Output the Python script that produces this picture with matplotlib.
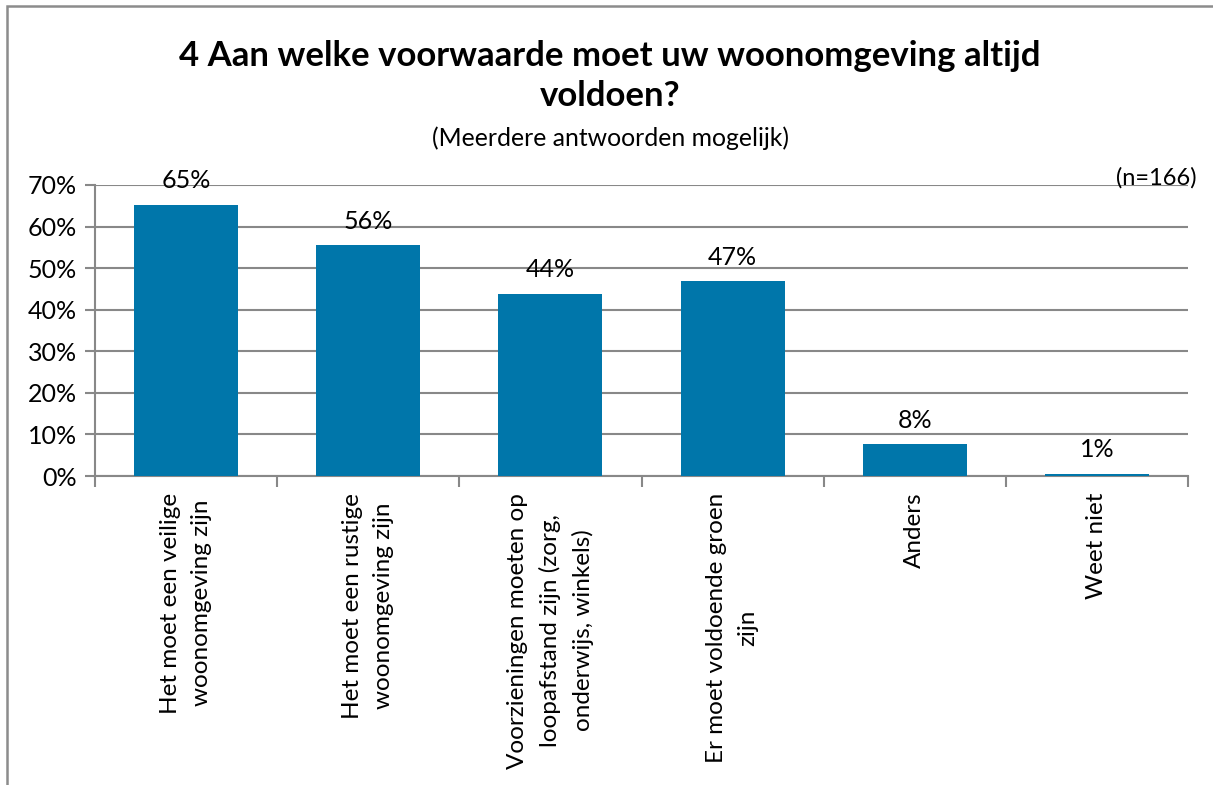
import matplotlib.pyplot as plt
from matplotlib.patches import Rectangle
from matplotlib.ticker import FixedLocator

plt.rcParams.update({
    "font.family": ["Lato", "DejaVu Sans"],
    "font.size": 18,
})

categories = [
    "Het moet een veilige\nwoonomgeving zijn",
    "Het moet een rustige\nwoonomgeving zijn",
    "Voorzieningen moeten op\nloopafstand zijn (zorg,\nonderwijs, winkels)",
    "Er moet voldoende groen\nzijn",
    "Anders",
    "Weet niet",
]
values = [65.3, 55.5, 43.8, 46.9, 7.6, 0.6]
bar_labels = ["65%", "56%", "44%", "47%", "8%", "1%"]
y_ticks = [0, 10, 20, 30, 40, 50, 60, 70]

BAR_COLOR = "#0076AA"
GRID_COLOR = "#888888"

W, H = 1213, 785
fig = plt.figure(figsize=(W / 100, H / 100), dpi=100)
fig.patch.set_facecolor("white")

# outer chart border (cut off at right and bottom in the reference)
fig.patches.append(Rectangle((7 / W, -0.05), 1.2, 1.05 - 6 / H,
                             transform=fig.transFigure, fill=False,
                             edgecolor="#8c8c8c", linewidth=1.8))

ax = fig.add_axes([95 / W, 1 - 476 / H, (1188 - 95) / W, (476 - 185) / H])
x = list(range(len(categories)))
bars = ax.bar(x, values, width=0.57, color=BAR_COLOR, zorder=3)

for rect, lab in zip(bars, bar_labels):
    ax.annotate(lab, (rect.get_x() + rect.get_width() / 2, rect.get_height()),
                xytext=(0, 9), textcoords="offset points",
                ha="center", va="bottom", fontsize=18, color="black")

ax.set_xlim(-0.5, len(categories) - 0.5)
ax.set_ylim(0, 70)
ax.set_yticks(y_ticks)
ax.set_yticklabels([f"{t}%" for t in y_ticks])
ax.yaxis.grid(True, color=GRID_COLOR, linewidth=1.5, zorder=0)
ax.set_axisbelow(True)

ax.set_xticks(x)
ax.set_xticklabels(categories, rotation=90, ha="center", va="top", fontsize=17.5,
                   linespacing=1.6)
ax.xaxis.set_minor_locator(FixedLocator([i - 0.5 for i in range(len(categories) + 1)]))
ax.tick_params(axis="x", which="major", length=0, pad=12)
ax.tick_params(axis="x", which="minor", length=8, width=1.5, color=GRID_COLOR)
ax.tick_params(axis="y", length=7, width=1.5, color=GRID_COLOR, pad=6, labelsize=18)

for side in ("top", "right"):
    ax.spines[side].set_visible(False)
for side in ("left", "bottom"):
    ax.spines[side].set_color(GRID_COLOR)
    ax.spines[side].set_linewidth(1.5)

fig.text(610 / W, 1 - 76 / H, "4 Aan welke voorwaarde moet uw woonomgeving altijd\nvoldoen?",
         ha="center", va="center", fontsize=25, fontweight="bold", linespacing=1.3)
fig.text(611 / W, 1 - 138 / H, "(Meerdere antwoorden mogelijk)",
         ha="center", va="center", fontsize=17.8)
fig.text(1197 / W, 1 - 178 / H, "(n=166)", ha="right", va="center", fontsize=17)

fig.savefig("out.png", dpi=100)
